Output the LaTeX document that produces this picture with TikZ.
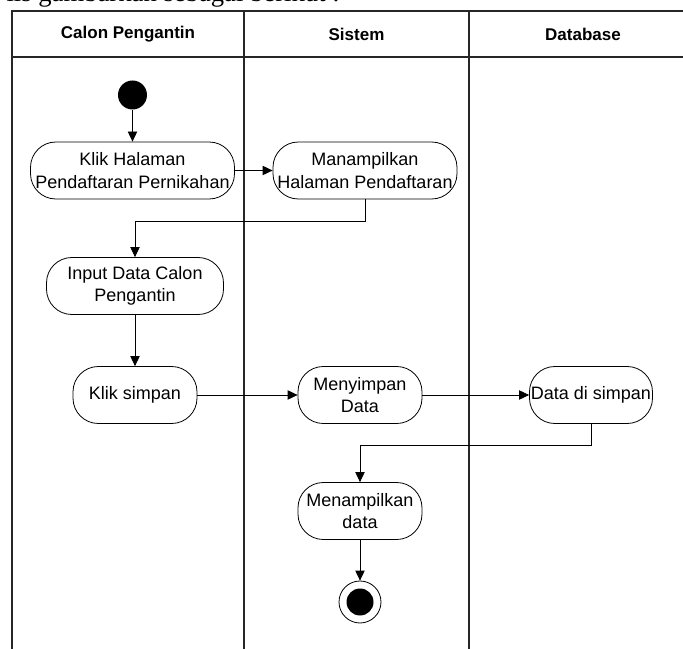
\documentclass[tikz,border=0pt]{standalone}
\usepackage{fontspec}
\setmainfont{Liberation Sans}
\newfontfamily\serifteks{Liberation Serif}
\usetikzlibrary{arrows.meta, positioning, calc}
\tikzset{
	aksi/.style={draw, line width=0.6pt, rounded corners=19pt, minimum height=42.75pt, align=center, inner sep=1pt, font=\fontsize{13.5}{17}\selectfont},
	panah/.style={-{Triangle[length=7.5pt,width=7pt]}, line width=0.6pt},
	lajur/.style={line width=0.9pt, black!85},
	judul/.style={font=\fontsize{12.75}{15}\selectfont\bfseries}
}

\begin{document}
\begin{tikzpicture}[x=0.75pt, y=-0.75pt]
			\clip (0,0) rectangle (683,649);
			\useasboundingbox (0,0) rectangle (683,649);
			% potongan kalimat di atas
			\node[anchor=base east, inner sep=0pt, font=\serifteks\fontsize{20}{22}\selectfont] (pengantar) at (340,2) {lis gambarkan sebagai berikut :};
			% swimlane
			\draw[lajur] (683,11) -- (12,11) -- (12,649);
			\draw[lajur] (12,57) -- (683,57);
			\draw[lajur] (244,11) -- (244,649);
			\draw[lajur] (469,11) -- (469,649);
			\node[judul] (lajurcalon) at (128,34) {Calon Pengantin};
			\node[judul] (lajursistem) at (356.5,34) {Sistem};
			\node[judul] (lajurdb) at (583,34) {Database};
			% aktivitas
			\node[circle, fill=black, minimum size=21.75pt, inner sep=0pt] (mulai) at (132.5,95) {};
			\node[aksi, minimum width=153pt] (klikhal) at (132.5,170.5) {Klik Halaman\\Pendaftaran Pernikahan};
			\node[aksi, minimum width=138pt] (tampilhal) at (365,170.5) {Manampilkan\\Halaman Pendaftaran};
			\node[aksi, minimum width=132.75pt] (input) at (135,286) {Input Data Calon\\Pengantin};
			\node[aksi, minimum width=93pt] (klikspn) at (135,395) {Klik simpan};
			\node[aksi, minimum width=93pt] (simpan) at (360,395) {Menyimpan\\Data};
			\node[aksi, minimum width=92.25pt] (datasimpan) at (591,395) {Data di simpan};
			\node[aksi, minimum width=93pt] (tampildata) at (360,511) {Menampilkan\\data};
			\node[circle, draw, line width=0.6pt, minimum size=31.5pt, inner sep=0pt] (selesai) at (360,602) {};
			\node[circle, fill=black, minimum size=20.25pt, inner sep=0pt] (selesaiinti) at (selesai) {};
			% alur
			\draw[panah] (mulai) -- (klikhal);
			\draw[panah] (klikhal) -- (tampilhal);
			\draw[panah] (tampilhal.south) -- ++(0,22) -| (input.north);
			\draw[panah] (input) -- (klikspn);
			\draw[panah] (klikspn) -- (simpan);
			\draw[panah] (simpan) -- (datasimpan);
			\draw[panah] (datasimpan.south) -- ++(0,22) -| (tampildata.north);
			\draw[panah] (tampildata) -- (selesai);
\end{tikzpicture}
\end{document}
